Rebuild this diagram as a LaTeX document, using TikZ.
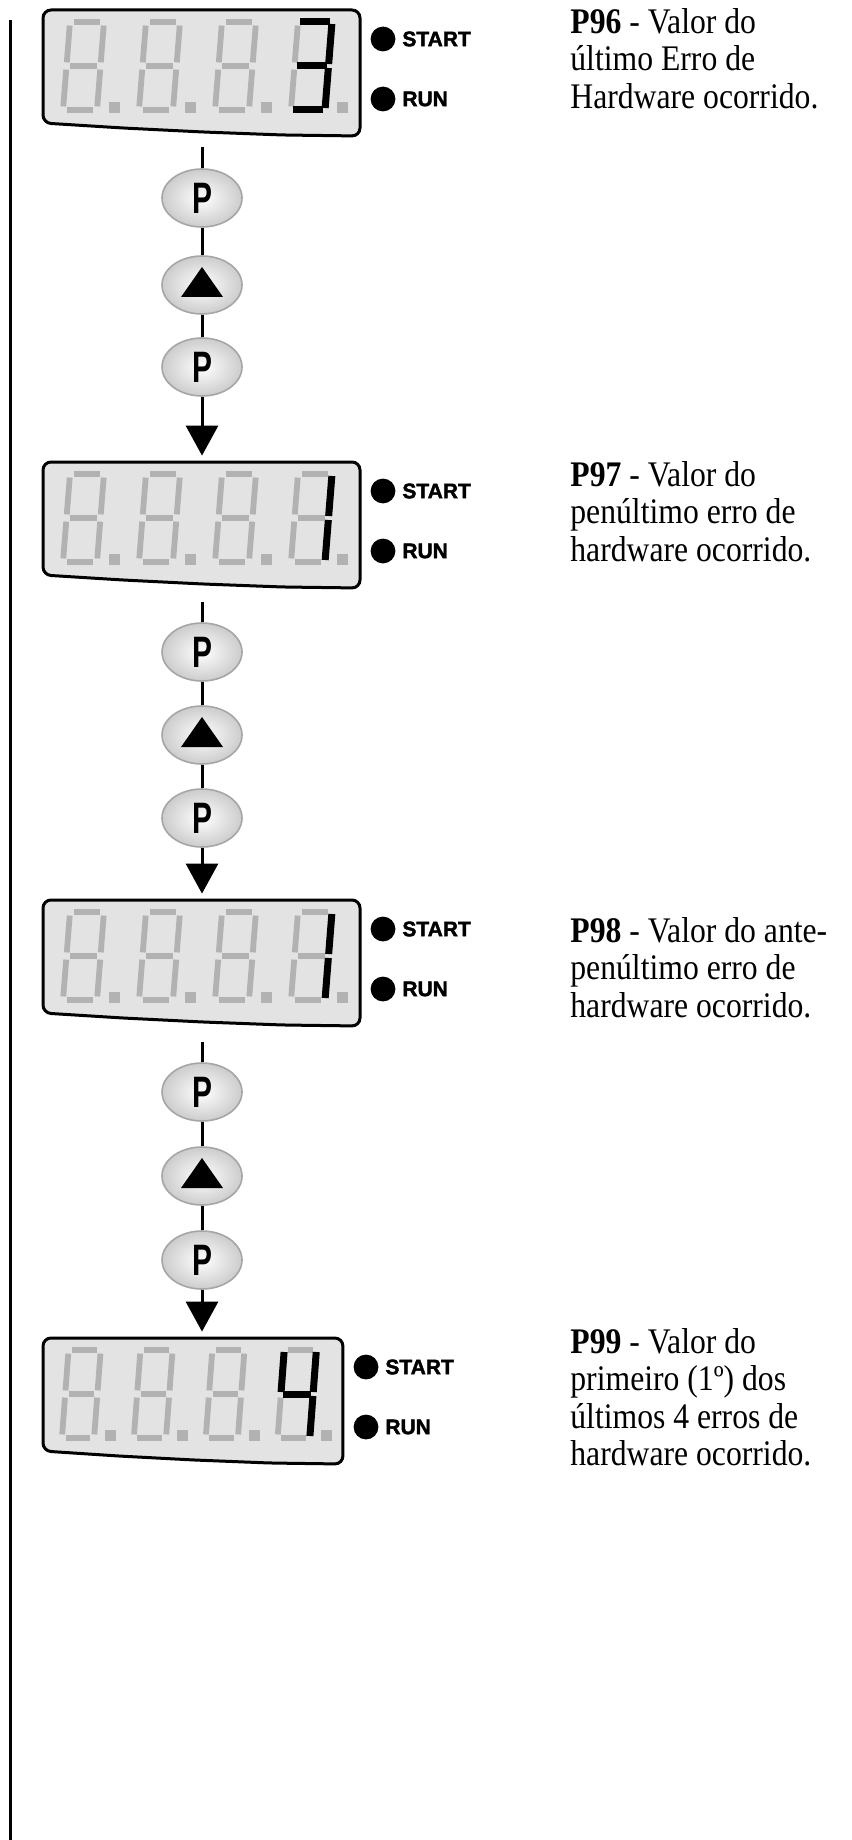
\documentclass[tikz,border=0pt]{standalone}
\usepackage{fontspec}
\usepackage{graphicx}
\setmainfont{Liberation Serif}
\newfontfamily\descfont[FakeStretch=0.88]{Liberation Serif}
\newfontfamily\lsans{Liberation Sans}
\newfontfamily\lblack[BoldFeatures={FakeBold=2}]{Liberation Sans}
\usetikzlibrary{arrows.meta,fit,shapes.geometric}
\definecolor{seggray}{HTML}{B2B2B2}
\definecolor{lcdbg}{HTML}{E3E3E3}

% seven segment digit: #1 bx, #2 by (bottom-left), #3 style, #4 segments
\newcommand\sevenseg[4]{%
  \begin{scope}[shift={(#1,#2)}]
    \coordinate (sa1) at (7,-88);   \coordinate (sa2) at (41,-88);
    \coordinate (sb1) at (41,-88);  \coordinate (sb2) at (37.5,-44);
    \coordinate (sc1) at (37.5,-44);\coordinate (sc2) at (34,0);
    \coordinate (sd1) at (0,0);     \coordinate (sd2) at (34,0);
    \coordinate (se1) at (3.5,-44); \coordinate (se2) at (0,0);
    \coordinate (sf1) at (7,-88);   \coordinate (sf2) at (3.5,-44);
    \coordinate (sg1) at (3.5,-44); \coordinate (sg2) at (37.5,-44);
    \foreach \s in {#4} {\draw[#3] (s\s1) -- (s\s2);}
  \end{scope}}

% display: #1 top T, #2 xscale, #3 black segments, #4 right edge R
\newcommand\lcd[4]{%
  \begin{scope}[shift={(43,#1)}, xscale=#2]
    \filldraw[fill=lcdbg, line width=1.5pt, rounded corners=4pt]
      (0,113) -- (0,0) -- (317,0) -- (317,126) -- (240,125) -- (160,122) -- (80,118) -- cycle;
    \foreach \dx in {20,96,172,248} {
      \sevenseg{\dx}{100}{seg}{a,b,c,d,e,f,g}
      \fill[seggray] (\dx+46,92) rectangle (\dx+57,103);
    }
    \sevenseg{248}{100}{segon}{#3}
  \end{scope}
  \fill (#4+23,#1+29) circle[radius=6.2pt];
  \fill (#4+23,#1+89) circle[radius=6.2pt];
  \node[lamplabel] at (#4+42,#1+29) {START};
  \node[lamplabel] at (#4+42,#1+89) {RUN};
}

\newcommand\btnP{{\lsans\bfseries\fontsize{22}{22}\selectfont\scalebox{0.68}[1]{P}}}

\begin{document}
\begin{tikzpicture}[x=0.5pt,y=-0.5pt,
  seg/.style={draw=seggray, line width=2.9pt, shorten <=1.8pt, shorten >=1.8pt},
  segon/.style={draw=black, line width=3.5pt, shorten <=1.0pt, shorten >=1.0pt},
  btn/.style={ellipse, minimum width=40pt, minimum height=29pt, inner sep=0pt,
    draw=gray!70, line width=0.8pt, inner color=white, outer color=gray!40},
  btntri/.style={btn, path picture={\fill[black]
    ([shift={(-21,12)}]path picture bounding box.center) -- ++(42,0) -- ++(-21,-30) -- cycle;}},
  lamplabel/.style={anchor=west, inner sep=0pt, font=\lblack\bfseries\fontsize{10.5}{12}\selectfont},
  desc/.style={anchor=north west, inner sep=0pt, align=left, font=\descfont\fontsize{18}{18.75}\selectfont},
  link/.style={line width=1.5pt},
  arr/.style={link, -{Triangle[width=16pt,length=15pt]}, shorten >=3pt},
  area/.style={inner sep=0pt},
]
\useasboundingbox (0,0) rectangle (851,1840);

% left margin rule
\draw[line width=1.5pt] (10,20) -- (10,1840);

% displays
\lcd{10}{1}{a,b,c,d,g}{360}
\lcd{462}{1}{b,c}{360}
\lcd{900}{1}{b,c}{360}
\lcd{1338}{0.946}{b,c,f,g}{343}

\node[area, fit={(43,10)(360,137)}] (d1) {};
\node[area, fit={(43,462)(360,588)}] (d2) {};
\node[area, fit={(43,900)(360,1027)}] (d3) {};
\node[area, fit={(43,1338)(343,1462)}] (d4) {};

% descriptions
\node[desc] (t1) at (570,8) {\textbf{P96} - Valor do\\último Erro de\\Hardware ocorrido.};
\node[desc] (t2) at (570,461) {\textbf{P97} - Valor do\\penúltimo erro de\\hardware ocorrido.};
\node[desc] (t3) at (570,917) {\textbf{P98} - Valor do ante-\\penúltimo erro de\\hardware ocorrido.};
\node[desc] (t4) at (570,1328) {\textbf{P99} - Valor do\\primeiro (1º) dos\\últimos 4 erros de\\hardware ocorrido.};

% chain 1
\coordinate (c1) at (202,147);
\node[btn] (b1p) at (202,198) {\btnP};
\node[btntri] (b1t) at (202,285) {};
\node[btn] (b1q) at (202,367) {\btnP};
\draw[link] (c1) -- (b1p) -- (b1t) -- (b1q);
\draw[arr] (b1q) -- (b1q |- d2.north);

% chain 2
\coordinate (c2) at (202,602);
\node[btn] (b2p) at (202,652) {\btnP};
\node[btntri] (b2t) at (202,735) {};
\node[btn] (b2q) at (202,818) {\btnP};
\draw[link] (c2) -- (b2p) -- (b2t) -- (b2q);
\draw[arr] (b2q) -- (b2q |- d3.north);

% chain 3
\coordinate (c3) at (202,1042);
\node[btn] (b3p) at (202,1092) {\btnP};
\node[btntri] (b3t) at (202,1176) {};
\node[btn] (b3q) at (202,1260) {\btnP};
\draw[link] (c3) -- (b3p) -- (b3t) -- (b3q);
\draw[arr] (b3q) -- (b3q |- d4.north);
\end{tikzpicture}
\end{document}
